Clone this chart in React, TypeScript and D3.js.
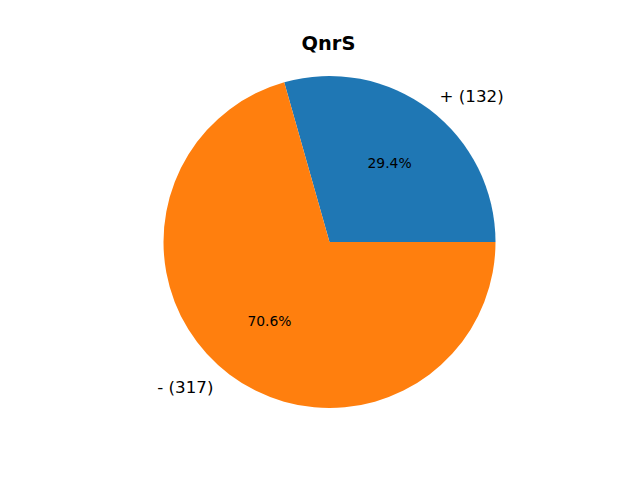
import React from "react";
import * as d3 from "d3";

const categories = ["+", "-"];
const values = [132, 317];
const colors = ["#1f77b4", "#ff7f0e"];
const title = "QnrS";

export default function App() {
  const W = 640, H = 480;
  const cx = 329.5, cy = 242, R = 166;
  const total = d3.sum(values);
  // matplotlib: start at 0 rad (3 o'clock), counterclockwise
  let start = 0;
  const slices = values.map((v, i) => {
    const a0 = start;
    const a1 = start + (v / total) * 2 * Math.PI;
    start = a1;
    return { v, i, a0, a1 };
  });
  const toD3 = (a: number) => Math.PI / 2 - a;
  const arc = d3.arc<any>().innerRadius(0).outerRadius(R);
  const font = "DejaVu Sans, sans-serif";
  return (
    <svg width={W} height={H} style={{ position: "absolute", left: 0, top: 0 }}>
      <rect width={W} height={H} fill="#fff" />
      <text x={cx - 1} y={44} textAnchor="middle" dominantBaseline="middle" fontFamily={font} fontWeight="bold" fontSize={19.4}>
        {title}
      </text>
      <g transform={`translate(${cx},${cy})`}>
        {slices.map((s) => (
          <path
            key={s.i}
            d={arc({ startAngle: toD3(s.a1), endAngle: toD3(s.a0) }) as string}
            fill={colors[s.i]}
          />
        ))}
        {slices.map((s) => {
          const mid = (s.a0 + s.a1) / 2;
          const lx = 1.1 * R * Math.cos(mid);
          const ly = -1.1 * R * Math.sin(mid);
          const px = 0.6 * R * Math.cos(mid);
          const py = -0.6 * R * Math.sin(mid);
          return (
            <g key={"t" + s.i}>
              <text x={lx} y={ly} dx={lx > 0 ? 0 : -6} dy={1} textAnchor={lx > 0 ? "start" : "end"} dominantBaseline="middle" fontFamily={font} fontSize={16.67}>
                {`${categories[s.i]} (${s.v})`}
              </text>
              <text x={px} y={py} dy={1} textAnchor="middle" dominantBaseline="middle" fontFamily={font} fontSize={13.9}>
                {`${((s.v / total) * 100).toFixed(1)}%`}
              </text>
            </g>
          );
        })}
      </g>
    </svg>
  );
}
